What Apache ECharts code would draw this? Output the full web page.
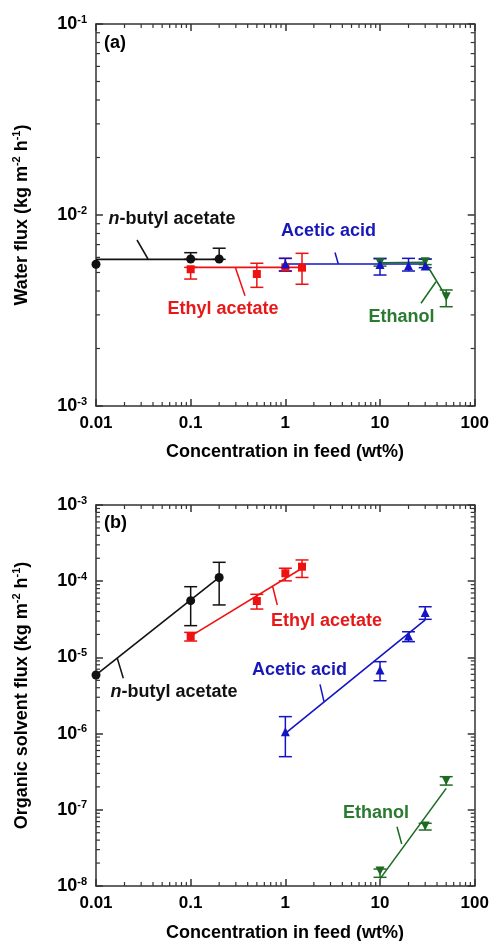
<!DOCTYPE html>
<html>
<head>
<meta charset="utf-8">
<script src="https://cdn.jsdelivr.net/npm/echarts@6/dist/echarts.min.js"></script>
<style>
  html, body { margin: 0; padding: 0; background: #fff; }
  #chart { width: 492px; height: 941px; }
</style>
</head>
<body>
<div id="chart"></div>
<script>
// Concentration in feed (wt%)
const concButyl = [0.01, 0.1, 0.2];
const concEthylAc = [0.1, 0.5, 1, 1.5];
const concAcetic = [1, 10, 20, 30];
const concEthanol = [10, 30, 50];

// (a) Water flux, kg m-2 h-1 (mean, lower and upper error bounds)
const waterButyl = [5.52e-3, 5.88e-3, 5.88e-3];
const waterButylLow = [5.52e-3, 5.86e-3, 5.86e-3];
const waterButylHigh = [5.52e-3, 6.35e-3, 6.70e-3];
const waterEthylAc = [5.20e-3, 4.91e-3, 5.32e-3, 5.30e-3];
const waterEthylAcLow = [4.62e-3, 4.18e-3, 5.09e-3, 4.34e-3];
const waterEthylAcHigh = [5.32e-3, 5.59e-3, 5.93e-3, 6.30e-3];
const waterAcetic = [5.54e-3, 5.50e-3, 5.43e-3, 5.41e-3];
const waterAceticLow = [5.09e-3, 4.85e-3, 5.09e-3, 5.30e-3];
const waterAceticHigh = [5.93e-3, 5.93e-3, 5.93e-3, 5.88e-3];
const waterEthanol = [5.62e-3, 5.69e-3, 3.73e-3];
const waterEthanolLow = [5.40e-3, 5.50e-3, 3.31e-3];
const waterEthanolHigh = [5.90e-3, 5.88e-3, 4.05e-3];

// (a) trend lines
const fitWaterButyl = [[0.01, 5.86e-3], [0.2, 5.86e-3]];
const fitWaterEthylAc = [[0.1, 5.32e-3], [1.5, 5.32e-3]];
const fitWaterAcetic = [[1, 5.54e-3], [30, 5.54e-3]];
const fitWaterEthanol = [[10, 5.62e-3], [30, 5.66e-3], [50, 3.73e-3]];

// (b) Organic solvent flux, kg m-2 h-1
const solvButyl = [5.87e-6, 5.55e-5, 1.12e-4];
const solvButylLow = [5.87e-6, 2.61e-5, 4.88e-5];
const solvButylHigh = [5.87e-6, 8.47e-5, 1.77e-4];
const solvEthylAc = [1.87e-5, 5.49e-5, 1.27e-4, 1.55e-4];
const solvEthylAcLow = [1.64e-5, 4.31e-5, 1.01e-4, 1.12e-4];
const solvEthylAcHigh = [2.13e-5, 6.73e-5, 1.48e-4, 1.90e-4];
const solvAcetic = [1.06e-6, 6.84e-6, 1.91e-5, 3.87e-5];
const solvAceticLow = [4.98e-7, 4.94e-6, 1.61e-5, 3.16e-5];
const solvAceticHigh = [1.67e-6, 8.79e-6, 2.17e-5, 4.62e-5];
const solvEthanol = [1.57e-8, 6.12e-8, 2.41e-7];
const solvEthanolLow = [1.30e-8, 5.43e-8, 2.11e-7];
const solvEthanolHigh = [1.67e-8, 6.65e-8, 2.72e-7];

// (b) trend lines
const fitSolvButyl = [[0.01, 5.9e-6], [0.2, 1.12e-4]];
const fitSolvEthylAc = [[0.1, 1.9e-5], [1.5, 1.48e-4]];
const fitSolvAcetic = [[1, 1.01e-6], [30, 3.10e-5]];
const fitSolvEthanol = [[10, 1.24e-8], [50, 1.91e-7]];

// Axis ranges
const concRange = [0.01, 100];
const waterRange = [1e-3, 1e-1];
const solvRange = [1e-8, 1e-3];

const FONT = '"Liberation Sans", Arial, Helvetica, sans-serif';
const AXIS_COLOR = '#333';
const COLORS = { butyl: '#111111', ethylAc: '#ee1111', acetic: '#1414c4', ethanol: '#1d6b22' };
const TEXT_COLORS = { butyl: '#111111', ethylAc: '#e81818', acetic: '#1818b8', ethanol: '#2a7a30' };

function zip3(xs, ys) { return xs.map((x, i) => [x, ys[i]]); }
function errRows(xs, ys, lo, hi) { return xs.map((x, i) => [x, ys[i], lo[i], hi[i]]); }

// Minor tick positions at 2..9 x each decade inside a range
function minorTicks(range) {
  const out = [];
  const e0 = Math.round(Math.log10(range[0]));
  const e1 = Math.round(Math.log10(range[1]));
  for (let e = e0; e < e1; e++) {
    for (let k = 2; k <= 9; k++) out.push(k * Math.pow(10, e));
  }
  return out;
}

const lineStyleAxis = { color: AXIS_COLOR, width: 1.5 };

function errorBarRenderer(color) {
  return function (params, api) {
    const x = api.value(0), lo = api.value(2), hi = api.value(3);
    if (!(hi > lo)) return null;
    const a = api.coord([x, lo]), b = api.coord([x, hi]);
    const w = 6.5;
    const style = { stroke: color, lineWidth: 1.5, fill: null };
    return {
      type: 'group',
      children: [
        { type: 'line', shape: { x1: a[0], y1: a[1], x2: b[0], y2: b[1] }, style },
        { type: 'line', shape: { x1: a[0] - w, y1: a[1], x2: a[0] + w, y2: a[1] }, style },
        { type: 'line', shape: { x1: b[0] - w, y1: b[1], x2: b[0] + w, y2: b[1] }, style }
      ]
    };
  };
}

function minorXRenderer(params, api) {
  const cs = params.coordSys;
  const px = api.coord([api.value(0), api.value(1)])[0];
  const style = { stroke: AXIS_COLOR, lineWidth: 1.2 };
  const bottom = cs.y + cs.height;
  return {
    type: 'group',
    children: [
      { type: 'line', shape: { x1: px, y1: bottom, x2: px, y2: bottom - 4 }, style },
      { type: 'line', shape: { x1: px, y1: cs.y, x2: px, y2: cs.y + 4 }, style }
    ]
  };
}

function minorYRenderer(params, api) {
  const cs = params.coordSys;
  const py = api.coord([api.value(0), api.value(1)])[1];
  const style = { stroke: AXIS_COLOR, lineWidth: 1.2 };
  const right = cs.x + cs.width;
  return {
    type: 'group',
    children: [
      { type: 'line', shape: { x1: cs.x, y1: py, x2: cs.x + 4, y2: py }, style },
      { type: 'line', shape: { x1: right, y1: py, x2: right - 4, y2: py }, style }
    ]
  };
}

function xAxes(gridIndex) {
  const common = {
    gridIndex, type: 'log', logBase: 10, min: concRange[0], max: concRange[1],
    axisLine: { show: true, lineStyle: lineStyleAxis },
    axisTick: { show: true, inside: true, length: 7, lineStyle: lineStyleAxis },
    splitLine: { show: false }
  };
  return [
    Object.assign({}, common, {
      position: 'bottom',
      axisLabel: {
        margin: 9, fontFamily: FONT, fontWeight: 'bold', fontSize: 17, color: '#000',
        formatter: v => {
          const e = Math.round(Math.log10(v));
          return e < 0 ? Math.pow(10, e).toFixed(-e) : String(Math.pow(10, e));
        }
      }
    }),
    Object.assign({}, common, { position: 'top', axisLabel: { show: false } })
  ];
}

function yAxes(gridIndex, range) {
  const common = {
    gridIndex, type: 'log', logBase: 10, min: range[0], max: range[1],
    axisLine: { show: true, lineStyle: lineStyleAxis },
    axisTick: { show: true, inside: true, length: 7, lineStyle: lineStyleAxis },
    splitLine: { show: false }
  };
  return [
    Object.assign({}, common, {
      position: 'left',
      axisLabel: {
        margin: 9, color: '#000',
        formatter: v => '{b|10}{s|' + Math.round(Math.log10(v)) + '}',
        rich: {
          b: { fontFamily: FONT, fontWeight: 'bold', fontSize: 18, color: '#000', lineHeight: 20 },
          s: { fontFamily: FONT, fontWeight: 'bold', fontSize: 11, color: '#000', verticalAlign: 'top', lineHeight: 20 }
        }
      }
    }),
    Object.assign({}, common, { position: 'right', axisLabel: { show: false } })
  ];
}

function scatter(name, gridIndex, xs, ys, color, symbol, size, rotate) {
  return {
    name, type: 'scatter', xAxisIndex: gridIndex * 2, yAxisIndex: gridIndex * 2,
    data: zip3(xs, ys), symbol, symbolSize: size, symbolRotate: rotate || 0,
    itemStyle: { color, opacity: 1 }, z: 5, silent: true
  };
}

function fitLine(gridIndex, pts, color) {
  return {
    type: 'line', xAxisIndex: gridIndex * 2, yAxisIndex: gridIndex * 2,
    data: pts, showSymbol: false, symbol: 'none',
    lineStyle: { color, width: 1.6 }, z: 3, silent: true
  };
}

function errorBars(gridIndex, rows, color) {
  return {
    type: 'custom', xAxisIndex: gridIndex * 2, yAxisIndex: gridIndex * 2,
    data: rows, renderItem: errorBarRenderer(color),
    encode: { x: 0, y: 1 }, z: 4, silent: true, clip: false
  };
}

function minorSeries(gridIndex, yRange) {
  return [
    {
      type: 'custom', xAxisIndex: gridIndex * 2, yAxisIndex: gridIndex * 2,
      data: minorTicks(concRange).map(v => [v, yRange[0]]),
      renderItem: minorXRenderer, encode: { x: 0, y: 1 }, z: 1, silent: true, clip: false
    },
    {
      type: 'custom', xAxisIndex: gridIndex * 2, yAxisIndex: gridIndex * 2,
      data: minorTicks(yRange).map(v => [concRange[0], v]),
      renderItem: minorYRenderer, encode: { x: 0, y: 1 }, z: 1, silent: true, clip: false
    }
  ];
}

const boldText = { fontFamily: FONT, fontWeight: 'bold', fontSize: 18 };

function label(text, x, y, color, rich) {
  return {
    type: 'text', x, y, silent: true, z: 10,
    style: Object.assign({ text, fill: color, align: 'center', verticalAlign: 'middle', rich: rich || {} }, boldText)
  };
}
function leader(x1, y1, x2, y2, color) {
  return {
    type: 'line', silent: true, z: 10,
    shape: { x1, y1, x2, y2 }, style: { stroke: color, lineWidth: 1.5 }
  };
}

const italicRich = (color) => ({
  i: Object.assign({ fontStyle: 'italic', fill: color, color }, boldText),
  r: Object.assign({ fill: color, color }, boldText)
});

const titleRich = {
  t: Object.assign({ fill: '#000', color: '#000', lineHeight: 22 }, boldText),
  s: { fontFamily: FONT, fontWeight: 'bold', fontSize: 11, fill: '#000', color: '#000', verticalAlign: 'top', lineHeight: 22 }
};

const chart = echarts.init(document.getElementById('chart'), null, { renderer: 'canvas' });

chart.setOption({
  animation: false,
  backgroundColor: '#fff',
  grid: [
    { left: 96, top: 24, width: 378.7, height: 382, containLabel: false },
    { left: 96, top: 505, width: 378.7, height: 381, containLabel: false }
  ],
  xAxis: [].concat(xAxes(0), xAxes(1)),
  yAxis: [].concat(yAxes(0, waterRange), yAxes(1, solvRange)),
  series: [].concat(
    minorSeries(0, waterRange),
    minorSeries(1, solvRange),
    [
      // (a) water flux
      fitLine(0, fitWaterButyl, COLORS.butyl),
      fitLine(0, fitWaterEthylAc, COLORS.ethylAc),
      fitLine(0, fitWaterAcetic, COLORS.acetic),
      fitLine(0, fitWaterEthanol, COLORS.ethanol),
      errorBars(0, errRows(concButyl, waterButyl, waterButylLow, waterButylHigh), COLORS.butyl),
      errorBars(0, errRows(concEthylAc, waterEthylAc, waterEthylAcLow, waterEthylAcHigh), COLORS.ethylAc),
      errorBars(0, errRows(concEthanol, waterEthanol, waterEthanolLow, waterEthanolHigh), COLORS.ethanol),
      errorBars(0, errRows(concAcetic, waterAcetic, waterAceticLow, waterAceticHigh), COLORS.acetic),
      scatter('n-butyl acetate', 0, concButyl, waterButyl, COLORS.butyl, 'circle', 9),
      scatter('Ethyl acetate', 0, concEthylAc, waterEthylAc, COLORS.ethylAc, 'rect', 8),
      scatter('Ethanol', 0, concEthanol, waterEthanol, COLORS.ethanol, 'triangle', 9, 180),
      scatter('Acetic acid', 0, concAcetic, waterAcetic, COLORS.acetic, 'triangle', 9),
      // (b) organic solvent flux
      fitLine(1, fitSolvButyl, COLORS.butyl),
      fitLine(1, fitSolvEthylAc, COLORS.ethylAc),
      fitLine(1, fitSolvAcetic, COLORS.acetic),
      fitLine(1, fitSolvEthanol, COLORS.ethanol),
      errorBars(1, errRows(concButyl, solvButyl, solvButylLow, solvButylHigh), COLORS.butyl),
      errorBars(1, errRows(concEthylAc, solvEthylAc, solvEthylAcLow, solvEthylAcHigh), COLORS.ethylAc),
      errorBars(1, errRows(concAcetic, solvAcetic, solvAceticLow, solvAceticHigh), COLORS.acetic),
      errorBars(1, errRows(concEthanol, solvEthanol, solvEthanolLow, solvEthanolHigh), COLORS.ethanol),
      scatter('n-butyl acetate', 1, concButyl, solvButyl, COLORS.butyl, 'circle', 9),
      scatter('Ethyl acetate', 1, concEthylAc, solvEthylAc, COLORS.ethylAc, 'rect', 8),
      scatter('Acetic acid', 1, concAcetic, solvAcetic, COLORS.acetic, 'triangle', 9),
      scatter('Ethanol', 1, concEthanol, solvEthanol, COLORS.ethanol, 'triangle', 9, 180)
    ]
  ),
  graphic: [
    // panel tags
    label('(a)', 115, 43, '#000'),
    label('(b)', 115.5, 523, '#000'),
    // (a) annotations
    label('{i|n}{r|-butyl acetate}', 172, 219, TEXT_COLORS.butyl, italicRich(TEXT_COLORS.butyl)),
    leader(137, 240, 148, 259, COLORS.butyl),
    label('Acetic acid', 328.5, 231, TEXT_COLORS.acetic),
    leader(335, 252.5, 338.3, 264, COLORS.acetic),
    label('Ethyl acetate', 223, 309, TEXT_COLORS.ethylAc),
    leader(235.3, 267.3, 245, 295.7, COLORS.ethylAc),
    label('Ethanol', 401.5, 317, TEXT_COLORS.ethanol),
    leader(421, 303.3, 436, 281.7, COLORS.ethanol),
    // (b) annotations
    label('{i|n}{r|-butyl acetate}', 174, 692, TEXT_COLORS.butyl, italicRich(TEXT_COLORS.butyl)),
    leader(117.3, 658.3, 123.3, 678.3, COLORS.butyl),
    label('Ethyl acetate', 326.5, 621, TEXT_COLORS.ethylAc),
    leader(272.7, 586.7, 277.3, 605, COLORS.ethylAc),
    label('Acetic acid', 299.5, 670, TEXT_COLORS.acetic),
    leader(320, 684.3, 324, 701.7, COLORS.acetic),
    label('Ethanol', 376, 813.5, TEXT_COLORS.ethanol),
    leader(397, 826.7, 401.7, 844, COLORS.ethanol),
    // axis titles
    label('Concentration in feed (wt%)', 285, 452, '#000'),
    label('Concentration in feed (wt%)', 285, 933, '#000'),
    {
      type: 'text', x: 22, y: 215, rotation: Math.PI / 2, silent: true, z: 10,
      style: Object.assign({
        text: '{t|Water flux (kg m}{s|-2}{t| h}{s|-1}{t|)}', fill: '#000',
        align: 'center', verticalAlign: 'middle', rich: titleRich
      }, boldText)
    },
    {
      type: 'text', x: 22, y: 695.5, rotation: Math.PI / 2, silent: true, z: 10,
      style: Object.assign({
        text: '{t|Organic solvent flux (kg m}{s|-2}{t| h}{s|-1}{t|)}', fill: '#000',
        align: 'center', verticalAlign: 'middle', rich: titleRich
      }, boldText)
    }
  ]
});
</script>
</body>
</html>
